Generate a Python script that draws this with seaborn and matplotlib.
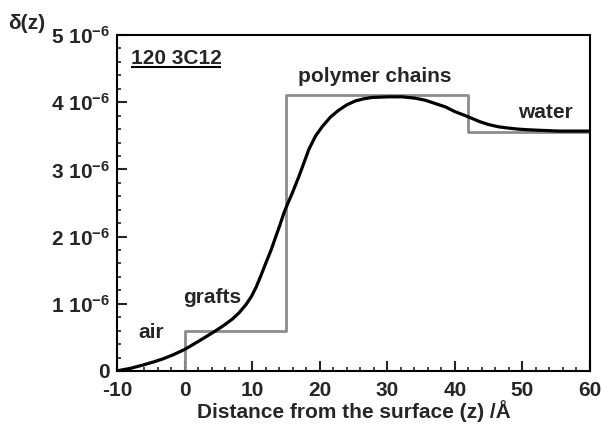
import matplotlib
matplotlib.use("Agg")
import matplotlib.pyplot as plt
from matplotlib.ticker import MultipleLocator, FixedLocator, FixedFormatter
import seaborn as sns
import pandas as pd

# Smooth fitted profile (delta in units of 1e-6)
curve_z = [-10, -9.6, -8.0, -6.1, -4.6, -3.2, -1.6, 0.0, 1.1, 2.2, 3.5, 4.7, 5.9, 7.1,
           8.1, 9.1, 9.9, 10.6, 11.3, 12.0, 12.8, 13.5, 14.1, 14.7, 15.3, 15.95, 16.9,
           17.6, 18.4, 19.4, 20.4, 21.6, 22.8, 24.0, 25.3, 26.5, 27.7, 30.2, 32.2, 34.1,
           35.6, 37.1, 38.6, 40.0, 41.3, 42.5, 43.7, 44.9, 46.4, 47.9, 49.3, 50.8,
           53.0, 55.5, 58.0, 60.0]
curve_delta = [0.0, 0.01, 0.04, 0.09, 0.135, 0.18, 0.245, 0.32, 0.385, 0.45, 0.53, 0.605,
               0.685, 0.775, 0.87, 0.99, 1.11, 1.25, 1.42, 1.60, 1.80, 2.00, 2.17, 2.35,
               2.50, 2.65, 2.89, 3.08, 3.30, 3.50, 3.64, 3.78, 3.88, 3.96, 4.02, 4.05,
               4.07, 4.08, 4.08, 4.06, 4.03, 3.98, 3.93, 3.86, 3.81, 3.76, 3.71, 3.67,
               3.635, 3.615, 3.60, 3.59, 3.58, 3.57, 3.57, 3.57]

# Layer (box) model
step_z = [0, 0, 15, 42, 60]
step_delta = [0.0, 0.6, 4.1, 3.56, 3.56]

y_ticks = [0, 1, 2, 3, 4, 5]
y_tick_labels = ["0"] + [f"{v} 10$^{{-6}}$" for v in y_ticks[1:]]
x_ticks = [-10, 0, 10, 20, 30, 40, 50, 60]

annotations = [("air", -5.0, 0.49), ("grafts", 4.05, 1.01),
               ("polymer chains", 28.2, 4.30), ("water", 53.4, 3.76)]
sample_label = "120 3C12"

sns.set_style("ticks")
plt.rcParams["font.family"] = ["Liberation Sans", "DejaVu Sans"]
plt.rcParams["axes.unicode_minus"] = False
plt.rcParams["mathtext.fontset"] = "custom"
plt.rcParams["mathtext.rm"] = "Liberation Sans:bold"
plt.rcParams["mathtext.it"] = "Liberation Sans:bold"
plt.rcParams["mathtext.bf"] = "Liberation Sans:bold"

FS = 15

fig = plt.figure(figsize=(6.02, 4.25), dpi=100)
ax = fig.add_axes([117 / 602, 1 - 371 / 425, (590 - 117) / 602, (371 - 35) / 425])

df_curve = pd.DataFrame({"z": curve_z, "delta": curve_delta})
df_step = pd.DataFrame({"z": step_z, "delta": step_delta})

sns.lineplot(data=df_step, x="z", y="delta", ax=ax, color="#8c8c8c", linewidth=2.0,
             estimator=None, sort=False, drawstyle="steps-post")
sns.lineplot(data=df_curve, x="z", y="delta", ax=ax, color="black", linewidth=2.3,
             estimator=None, sort=False)

ax.set_xlim(-10, 60)
ax.set_ylim(0, 5)

ax.xaxis.set_major_locator(FixedLocator(x_ticks))
ax.xaxis.set_minor_locator(MultipleLocator(2))
ax.yaxis.set_major_locator(FixedLocator(y_ticks))
ax.yaxis.set_major_formatter(FixedFormatter(y_tick_labels))
ax.yaxis.set_minor_locator(MultipleLocator(0.2))

for s in ax.spines.values():
    s.set_linewidth(1.5)
    s.set_color("black")

ax.tick_params(axis="both", which="major", direction="in", length=7, width=1.5,
               labelsize=FS, top=False, right=False)
ax.tick_params(axis="both", which="minor", direction="in", length=3, width=1.2,
               top=False, right=False)
ax.tick_params(axis="x", which="major", pad=7)
ax.tick_params(axis="y", which="major", pad=5)
for lbl in ax.get_xticklabels() + ax.get_yticklabels():
    lbl.set_fontweight("bold")

ax.set_xlabel("Distance from the surface (z) /Å", fontsize=FS, fontweight="bold", labelpad=0)
ax.set_ylabel("")

for txt, x, y in annotations:
    ax.text(x, y, txt, fontsize=FS, fontweight="bold", ha="center", va="baseline")

ax.text(-7.9, 4.57, sample_label, fontsize=FS, fontweight="bold", ha="left", va="baseline")
ax.plot([-7.9, 5.4], [4.52, 4.52], color="black", linewidth=1.5, solid_capstyle="butt")

fig.text(0.045, 0.945, "δ(z)", fontsize=FS, fontweight="bold", ha="center", va="center")

fig.savefig("out.png", dpi=100)
